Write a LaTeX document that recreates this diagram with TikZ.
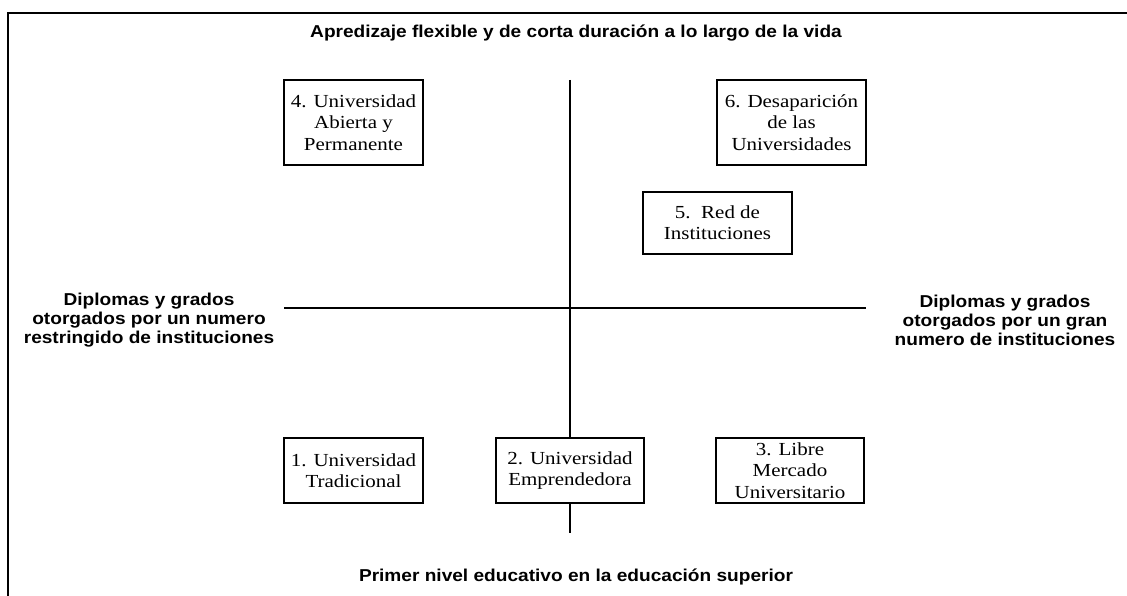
\documentclass[tikz,border=0pt]{standalone}
\usepackage{fontspec}
\newfontfamily\capfont[FakeStretch=1.11]{Liberation Sans}
\newfontfamily\celfont[FakeStretch=1.14]{Liberation Serif}
\begin{document}
\begin{tikzpicture}[x=1pt,y=-1pt,
  frame/.style={line width=2.6pt},
  axis/.style={line width=2pt},
  cell/.style={draw, line width=1.6pt, fill=white, inner sep=0pt, align=center,
    font=\celfont\fontsize{18.4}{21.3}\selectfont},
  heading/.style={inner sep=0pt, align=center,
    font=\capfont\bfseries\fontsize{17.2}{19}\selectfont}]
\useasboundingbox (0,0) rectangle (1127,596);

% outer frame (runs off the page on the right and bottom)
\draw[frame] (8,620) -- (8,13) -- (1140,13);

% axes
\coordinate (vtop) at (570,80);
\coordinate (vbot) at (570,533);
\coordinate (hleft) at (284,308);
\coordinate (hright) at (866,308);
\draw[axis] (vtop) -- (vbot);
\draw[axis] (hleft) -- (hright);

% axis captions
\node[heading] (top) at (576,33) {Apredizaje flexible y de corta duración a lo largo de la vida};
\node[heading] (bottom) at (576,577) {Primer nivel educativo en la educación superior};
\node[heading] (left) at (149,320) {Diplomas y grados\\otorgados por un numero\\restringido de instituciones};
\node[heading] (right) at (1005,320) {Diplomas y grados\\otorgados por un gran\\numero de instituciones};

% scenarios
\node[cell, minimum width=139pt, minimum height=85pt] (s4) at (353.5,122.5) {4. Universidad\\Abierta y\\Permanente};
\node[cell, minimum width=149pt, minimum height=85pt] (s6) at (791.5,122.5) {6. Desaparición\\de las\\Universidades};
\node[cell, minimum width=149pt, minimum height=62pt] (s5) at (717.5,223) {5.\ \ Red de\\Instituciones};
\node[cell, minimum width=139pt, minimum height=65pt] (s1) at (353.5,470.5) {1. Universidad\\Tradicional};
\node[cell, minimum width=148pt, minimum height=65pt] (s2) at (570,470.5) {2. Universidad\\Emprendedora};
\node[cell, minimum width=148pt, minimum height=65pt] (s3) at (790,470.5) {3. Libre\\Mercado\\Universitario};
\end{tikzpicture}
\end{document}
